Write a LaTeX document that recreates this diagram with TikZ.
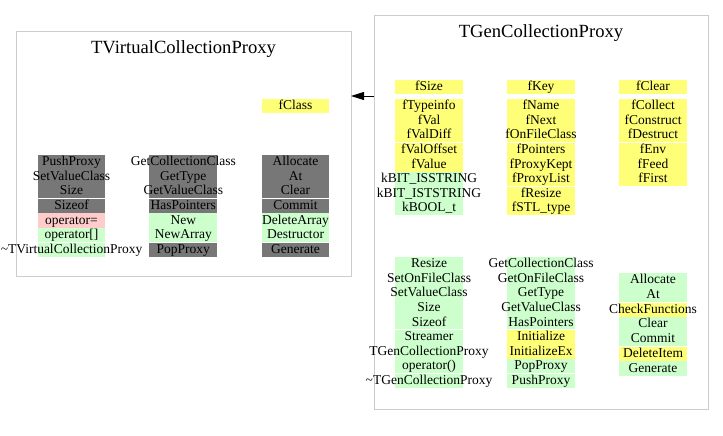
\documentclass[tikz,border=0pt]{standalone}
\usepackage{fontspec}
\setmainfont{Liberation Serif}
\usetikzlibrary{arrows.meta}
\definecolor{cgray}{RGB}{119,119,119}
\definecolor{cyel}{RGB}{255,255,119}
\definecolor{cgrn}{RGB}{204,255,204}
\definecolor{cpink}{RGB}{255,204,204}
\definecolor{cframe}{RGB}{204,204,204}
\newcommand\cellfont{\fontsize{13.5}{14.5}\selectfont}
\newcommand\titlefont{\fontsize{18.6}{20}\selectfont}
\begin{document}
\begin{tikzpicture}[x=1pt,y=-1pt,
 frame/.style={draw=cframe, line width=1pt, inner sep=0pt, outer sep=0pt},
 cell/.style={inner sep=0pt, outer sep=0pt, minimum width=67.7pt, minimum height=#1, text height=10pt, text depth=2.8pt, font=\cellfont},
 cell/.default=14.55pt,
 sep/.style={draw=white, line width=1pt},
 title/.style={font=\titlefont, inner sep=0pt, anchor=base},
 arr/.style={-{Triangle[length=13pt,width=8pt]}, line width=1pt, draw=black}
]
\useasboundingbox (0,0) rectangle (723,436);
\fill[white] (0,0) rectangle (723,436);
% frames
\node[frame, minimum width=335pt, minimum height=244pt, anchor=north west] (lframe) at (16,32) {};
\node[frame, minimum width=334pt, minimum height=393pt, anchor=north west] (rframe) at (374,16) {};
\node[title] (ltitle) at (183.5,53.5) {TVirtualCollectionProxy};
\node[title] (rtitle) at (541,37.5) {TGenCollectionProxy};
% arrow
\coordinate (ay) at (0,96);
\draw[arr] (rframe.west |- ay) -- (lframe.east |- ay);
% left box
\node[cell=14pt, fill=cyel] (fclass) at (295.5,106) {\makebox[0pt]{fClass}};
\foreach \t/\c [count=\i] in {PushProxy/cgray, SetValueClass/cgray, Size/cgray, Sizeof/cgray, {operator=}/cpink, {operator[]}/cgrn, {\textasciitilde TVirtualCollectionProxy}/cgrn}
  \node[cell, fill=\c] (la\i) at (71.5,{155+14.55*(\i-0.5)}) {\makebox[0pt]{\t}};
\foreach \t/\c [count=\i] in {GetCollectionClass/cgray, GetType/cgray, GetValueClass/cgray, HasPointers/cgray, New/cgrn, NewArray/cgrn, PopProxy/cgray}
  \node[cell, fill=\c] (lb\i) at (183.3,{155+14.55*(\i-0.5)}) {\makebox[0pt]{\t}};
\foreach \t/\c [count=\i] in {Allocate/cgray, At/cgray, Clear/cgray, Commit/cgray, DeleteArray/cgrn, Destructor/cgrn, Generate/cgray}
  \node[cell, fill=\c] (lc\i) at (295.5,{155+14.55*(\i-0.5)}) {\makebox[0pt]{\t}};
\foreach \n in {la,lb,lc}{
  \draw[sep] (\n3.south west) -- (\n3.south east);
  \draw[sep] (\n6.south west) -- (\n6.south east);
}
% right box, top
\node[cell=14pt, fill=cyel] (fsize) at (429,87) {\makebox[0pt]{fSize}};
\node[cell=14pt, fill=cyel] (fkey) at (541,87) {\makebox[0pt]{fKey}};
\node[cell=14pt, fill=cyel] (fclear) at (653,87) {\makebox[0pt]{fClear}};
\foreach \t/\c [count=\i] in {fTypeinfo/cyel, fVal/cyel, fValDiff/cyel, fValOffset/cyel, fValue/cyel, kBIT\_ISSTRING/cgrn, kBIT\_ISTSTRING/cgrn, kBOOL\_t/cgrn}
  \node[cell, fill=\c] (ra\i) at (429,{99+14.55*(\i-0.5)}) {\makebox[0pt]{\t}};
\foreach \t/\c [count=\i] in {fName/cyel, fNext/cyel, fOnFileClass/cyel, fPointers/cyel, fProxyKept/cyel, fProxyList/cyel, fResize/cyel, fSTL\_type/cyel}
  \node[cell, fill=\c] (rb\i) at (541,{99+14.55*(\i-0.5)}) {\makebox[0pt]{\t}};
\foreach \t/\c [count=\i] in {fCollect/cyel, fConstruct/cyel, fDestruct/cyel, fEnv/cyel, fFeed/cyel, fFirst/cyel}
  \node[cell, fill=\c] (rc\i) at (653,{99+14.55*(\i-0.5)}) {\makebox[0pt]{\t}};
\foreach \n in {ra,rb,rc}{
  \draw[sep] (\n3.south west) -- (\n3.south east);
}
\draw[sep] (rb6.south west) -- (rb6.south east);
% right box, bottom
\foreach \t/\c [count=\i] in {Resize/cgrn, SetOnFileClass/cgrn, SetValueClass/cgrn, Size/cgrn, Sizeof/cgrn, Streamer/cgrn, TGenCollectionProxy/cgrn, {operator()}/cgrn, {\textasciitilde TGenCollectionProxy}/cgrn}
  \node[cell=14.6pt, fill=\c] (sa\i) at (429,{256.7+14.6*(\i-0.5)}) {\makebox[0pt]{\t}};
\foreach \t/\c [count=\i] in {GetCollectionClass/cgrn, GetOnFileClass/cgrn, GetType/cgrn, GetValueClass/cgrn, HasPointers/cgrn, Initialize/cyel, InitializeEx/cyel, PopProxy/cgrn, PushProxy/cgrn}
  \node[cell=14.6pt, fill=\c] (sb\i) at (541,{256.7+14.6*(\i-0.5)}) {\makebox[0pt]{\t}};
\foreach \t/\c [count=\i] in {Allocate/cgrn, At/cgrn, CheckFunctions/cyel, Clear/cgrn, Commit/cgrn, DeleteItem/cyel, Generate/cgrn}
  \node[cell=14.76pt, fill=\c] (sc\i) at (653,{272.7+14.76*(\i-0.5)}) {\makebox[0pt]{\t}};
\foreach \n in {sa,sb}{
  \draw[sep] (\n5.south west) -- (\n5.south east);
  \draw[sep] (\n8.south west) -- (\n8.south east);
}
\draw[sep] (sc2.south west) -- (sc2.south east);
\draw[sep] (sc5.south west) -- (sc5.south east);
\end{tikzpicture}
\end{document}
